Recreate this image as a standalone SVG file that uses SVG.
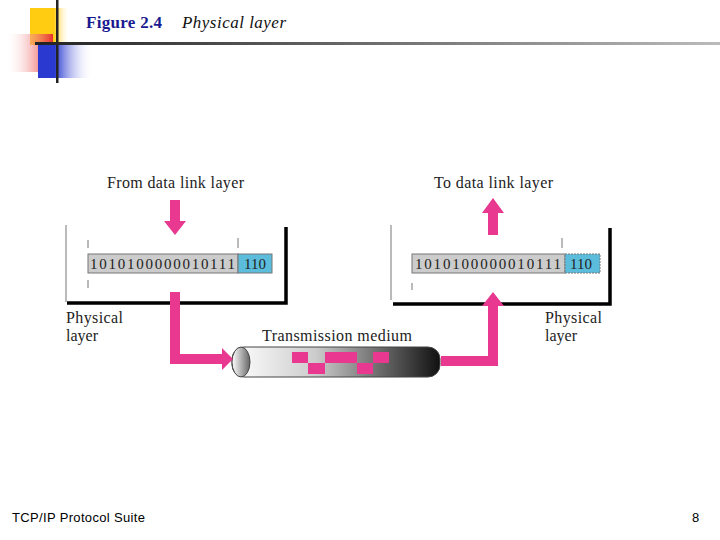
<svg xmlns="http://www.w3.org/2000/svg" width="720" height="540" viewBox="0 0 720 540">
<style>
.s{font-family:"Liberation Serif",serif;font-size:16px;fill:#222}
.b{font-family:"Liberation Serif",serif;font-size:15px;fill:#222}
.pk{fill:#e8388f}
.thin{stroke:#777;stroke-width:1}
.thick{stroke:#000;stroke-width:3.5;fill:none}
</style>
<defs>
<linearGradient id="red" x1="1" y1="0" x2="0" y2="0"><stop offset="0" stop-color="#e83030"/><stop offset="1" stop-color="#fff" stop-opacity="0"/></linearGradient>
<linearGradient id="blue" x1="0" y1="0" x2="1" y2="0"><stop offset="0.3" stop-color="#2a3ad0"/><stop offset="1" stop-color="#fff" stop-opacity="0"/></linearGradient>
<linearGradient id="yel" x1="0" y1="0" x2="1" y2="0"><stop offset="0.6" stop-color="#ffcc11"/><stop offset="1" stop-color="#fff" stop-opacity="0"/></linearGradient>
<linearGradient id="hl" x1="0" y1="0" x2="1" y2="0"><stop offset="0" stop-color="#222"/><stop offset="1" stop-color="#bbb"/></linearGradient>
<linearGradient id="tube" x1="0" y1="0" x2="1" y2="0"><stop offset="0" stop-color="#fff"/><stop offset="0.4" stop-color="#ccc"/><stop offset="1" stop-color="#111"/></linearGradient>
<linearGradient id="cap" x1="0" y1="0" x2="1" y2="0"><stop offset="0" stop-color="#fff"/><stop offset="1" stop-color="#666"/></linearGradient>
</defs>
<g id="decor">
<rect x="30" y="8" width="40" height="37" fill="url(#yel)"/>
<rect x="5" y="34" width="48" height="38" fill="url(#red)"/>
<rect x="38" y="45" width="55" height="33" fill="url(#blue)"/>
<rect x="56" y="0" width="2.5" height="83" fill="#222"/>
<rect x="35" y="42" width="685" height="3" fill="url(#hl)"/>
</g>
<text x="86" y="28" font-family="Liberation Serif,serif" font-size="17" font-weight="bold" fill="#1a1a90" textLength="76">Figure 2.4</text>
<text x="182" y="28" font-family="Liberation Serif,serif" font-size="17" font-style="italic" fill="#111" textLength="104">Physical layer</text>

<g id="sender">
<line class="thin" x1="66" y1="225" x2="66" y2="302"/>
<polyline class="thick" points="67,303 286,303 286,227"/>
<line class="thin" x1="88" y1="240" x2="88" y2="248"/><line class="thin" x1="88" y1="280" x2="88" y2="288"/><line class="thin" x1="238" y1="238" x2="238" y2="248"/>
<rect x="88" y="254" width="150" height="19" fill="#ccc" stroke="#777"/>
<rect x="238" y="254" width="34" height="19" fill="#5bbcdb" stroke="#777"/>
<text class="b" x="90" y="269" textLength="145">1010100000010111</text>
<text class="b" x="244" y="269">110</text>
<text class="s" x="107" y="188" textLength="137">From data link layer</text>
<text class="s" x="66" y="323" textLength="57">Physical</text><text class="s" x="66" y="341">layer</text>
</g>
<g id="receiver">
<line class="thin" x1="391" y1="225" x2="391" y2="300"/>
<polyline class="thick" points="393,304 610,304 610,228"/>
<line class="thin" x1="412" y1="283" x2="412" y2="290"/><line class="thin" x1="562" y1="238" x2="562" y2="248"/>
<rect x="412" y="254" width="153" height="19" fill="#ccc" stroke="#777"/>
<rect x="565" y="254" width="35" height="19" fill="#5bbcdb" stroke="#777" stroke-dasharray="2,1"/>
<text class="b" x="415" y="269" textLength="146">1010100000010111</text>
<text class="b" x="570" y="269">110</text>
<text class="s" x="434" y="188" textLength="119">To data link layer</text>
<text class="s" x="545" y="323" textLength="57">Physical</text><text class="s" x="545" y="341">layer</text>
</g>
<g id="medium">
<rect x="232" y="347" width="208" height="30" rx="12" fill="url(#tube)" stroke="#444"/>
<ellipse cx="241" cy="362" rx="9" ry="15" fill="url(#cap)" stroke="#444"/>
<g class="pk">
<rect x="292" y="352" width="16" height="11"/><rect x="308" y="363" width="17" height="11"/>
<rect x="325" y="352" width="16" height="11"/><rect x="341" y="352" width="16" height="11"/>
<rect x="357" y="363" width="16" height="11"/><rect x="373" y="352" width="16" height="11"/>
</g>
<text class="s" x="262" y="341" textLength="150">Transmission medium</text>
</g>
<g id="connectors" class="pk">
<polygon points="170,200 180,200 180,221 186,221 175,235 164,221 170,221"/>
<polygon points="170,292 180,292 180,354 222,354 222,348 233,359 222,370 222,364 170,364"/>
<polygon points="488,235 498,235 498,213 504,213 493,198 482,213 488,213"/>
<polygon points="441,356 488,356 488,306 482,306 493,292 504,306 498,306 498,366 441,366"/>
</g>
<text x="12" y="522" font-family="Liberation Sans,sans-serif" font-size="13" fill="#000" textLength="133">TCP/IP Protocol Suite</text>
<text x="692" y="522" font-family="Liberation Sans,sans-serif" font-size="13" fill="#000">8</text>
</svg>
